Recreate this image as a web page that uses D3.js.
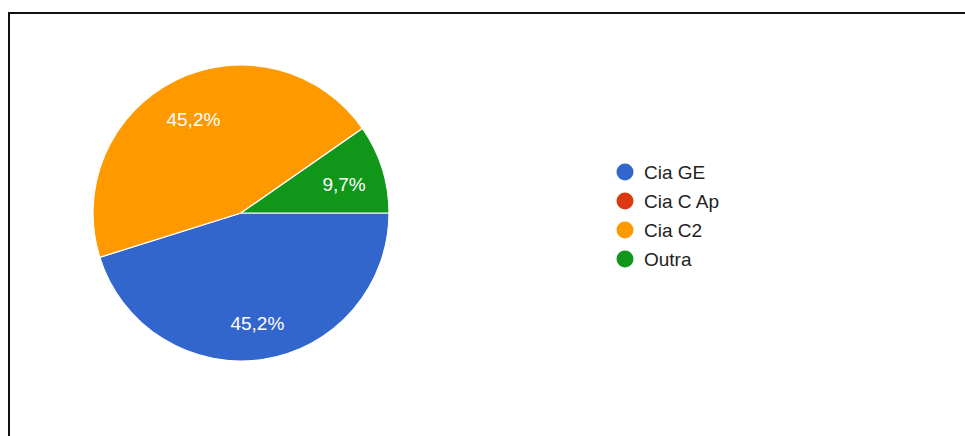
<!DOCTYPE html>
<html lang="pt">
<head>
    <meta charset="UTF-8">
    <title>Pie</title>
    <script src="https://d3js.org/d3.v7.min.js"></script>
    <style>
        body { margin: 0; background: #fff; }
        #canvas { display: block; }
        .slice-label { font-family: "Liberation Sans", Arial, sans-serif; font-size: 19px; fill: #fff; }
        .legend-label { font-family: "Liberation Sans", Arial, sans-serif; font-size: 19px; fill: #222; }
    </style>
</head>
<body>
    <svg id="canvas" width="965" height="436"></svg>
    <script>
        // answers (31 responses)
        let categories = ['Cia GE', 'Cia C Ap', 'Cia C2', 'Outra'];
        let counts = [14, 0, 14, 3];
        let colors = ['#3366cc', '#dc3912', '#ff9900', '#109618'];

        let svg = d3.select('#canvas');

        // frame around the screenshot
        svg.append('path')
            .attr('d', 'M9,440 V13 H970')
            .attr('fill', 'none')
            .attr('stroke', '#111')
            .attr('stroke-width', 2);

        let cx = 241, cy = 213, radius = 148;
        let total = d3.sum(counts);
        let data = categories.map((c, i) => ({name: c, value: counts[i], color: colors[i]}));

        let pie = d3.pie()
            .sort(null)
            .value(d => d.value)
            .startAngle(Math.PI / 2)
            .endAngle(Math.PI / 2 + 2 * Math.PI);

        let arc = d3.arc().innerRadius(0).outerRadius(radius);
        let labelArc = d3.arc().innerRadius(radius * 0.73).outerRadius(radius * 0.73);

        let g = svg.append('g').attr('transform', `translate(${cx},${cy})`);
        let arcs = pie(data).filter(d => d.data.value > 0);

        g.selectAll('path')
            .data(arcs)
            .enter()
            .append('path')
            .attr('d', arc)
            .attr('fill', d => d.data.color)
            .attr('stroke', '#fff')
            .attr('stroke-width', 1.2);

        let fmt = v => (v / total * 100).toFixed(1).replace('.', ',') + '%';

        g.selectAll('text')
            .data(arcs)
            .enter()
            .append('text')
            .attr('class', 'slice-label')
            .attr('transform', d => `translate(${labelArc.centroid(d)})`)
            .attr('text-anchor', 'middle')
            .attr('dy', '0.55em')
            .text(d => fmt(d.data.value));

        // legend
        let y = d3.scalePoint().domain(categories).range([172, 259]);
        let legend = svg.append('g');
        let items = legend.selectAll('g')
            .data(data)
            .enter()
            .append('g')
            .attr('transform', d => `translate(625,${y(d.name)})`);
        items.append('circle')
            .attr('r', 8.5)
            .attr('fill', d => d.color);
        items.append('text')
            .attr('class', 'legend-label')
            .attr('x', 19)
            .attr('dy', '0.35em')
            .text(d => d.name);
    </script>
</body>
</html>
